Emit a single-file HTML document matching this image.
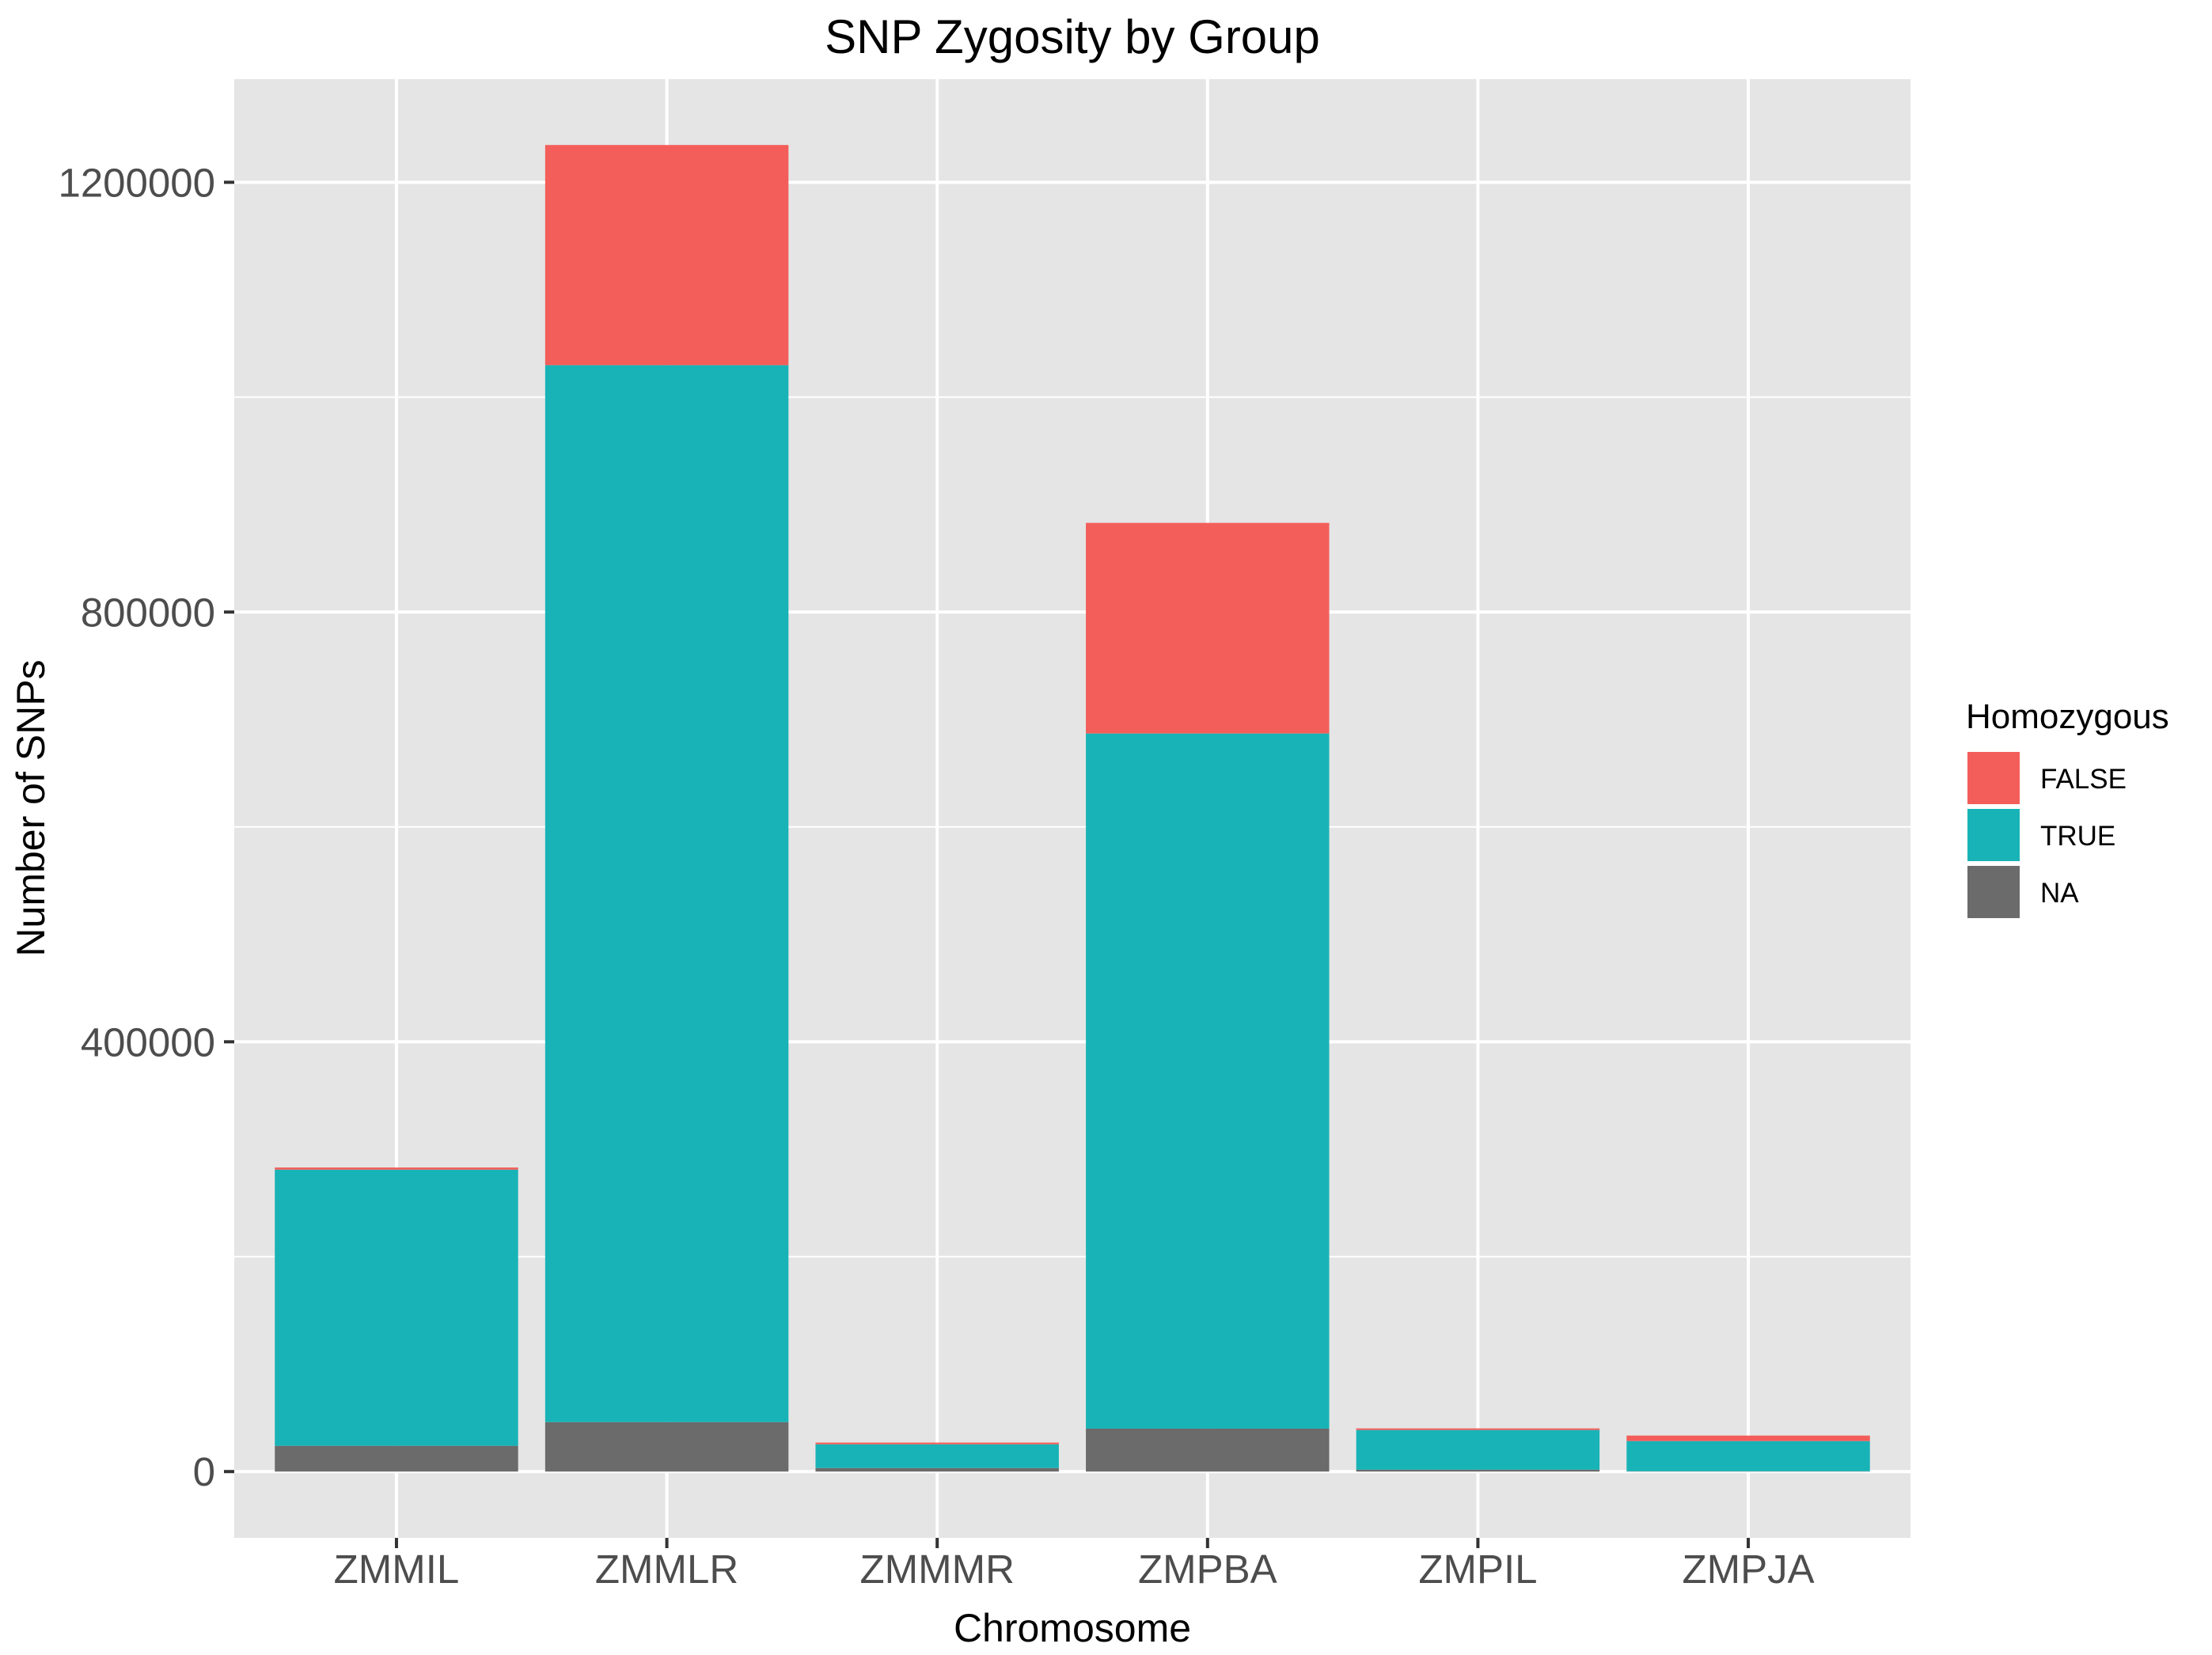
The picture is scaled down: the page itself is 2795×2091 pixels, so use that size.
<!DOCTYPE html>
<html><head><meta charset="utf-8"><style>
html,body{margin:0;padding:0;background:#fff;}
svg{display:block;font-family:"Liberation Sans",Arial,sans-serif;}
</style></head><body>
<svg id="chart" width="2795" height="2091" viewBox="0 0 2795 2091" xmlns="http://www.w3.org/2000/svg">
<rect x="0" y="0" width="2795" height="2091" fill="#fff"/>
<text x="1355" y="67" font-size="60" text-anchor="middle" fill="#000">SNP Zygosity by Group</text>
<rect x="296" y="100" width="2118" height="1843" fill="#e5e5e5"/>
<g id="grid"></g>
<g id="bars"></g>
<g id="axes"></g>
<text x="1355" y="2074" font-size="50" text-anchor="middle" fill="#000">Chromosome</text>
<text transform="translate(56,1021) rotate(-90)" font-size="50" text-anchor="middle" fill="#000">Number of SNPs</text>
<g>
<text x="2484" y="920" font-size="44" fill="#000">Homozygous</text>
<rect x="2486" y="950" width="66" height="66" fill="#F35E5A"/>
<text x="2578" y="996" font-size="35" fill="#000">FALSE</text>
<rect x="2486" y="1022" width="66" height="66" fill="#18B3B7"/>
<text x="2578" y="1068" font-size="35" fill="#000">TRUE</text>
<rect x="2486" y="1094" width="66" height="66" fill="#6B6B6B"/>
<text x="2578" y="1140" font-size="35" fill="#000">NA</text>
</g>
</svg>
<script>
const categories = ["ZMMIL","ZMMLR","ZMMMR","ZMPBA","ZMPIL","ZMPJA"];
const naValues = [24000, 46000, 3300, 40000, 1800, 300];
const trueValues = [257000, 983800, 22100, 647000, 36900, 28100];
const falseValues = [2000, 204900, 1600, 196000, 1500, 5100];
const yTicks = [0, 400000, 800000, 1200000];
const yMinorTicks = [200000, 600000, 1000000];
const yTickLabels = ["0","400000","800000","1200000"];

const NS = "http://www.w3.org/2000/svg";
const PL = 296, PR = 2414, PT = 100, PB = 1943;
const yMin = -61700, yMax = 1296000;
function yScale(v){ return PB - (v - yMin) / (yMax - yMin) * (PB - PT); }
const step = (PR - PL) / (categories.length - 1 + 1.2);
function xScale(i){ return PL + step * 0.6 + i * step; }
const barW = step * 0.9;
function mk(tag, attrs, parent){ const e = document.createElementNS(NS, tag); for (const k in attrs) e.setAttribute(k, attrs[k]); parent.appendChild(e); return e; }

const grid = document.getElementById('grid');
yMinorTicks.forEach(v => {
  const l = mk('line', {x1:PL, x2:PR, y1:yScale(v), y2:yScale(v), stroke:'#fff', 'stroke-width':2}, grid);
  
  
});
yTicks.forEach(v => {
  const l = mk('line', {x1:PL, x2:PR, y1:yScale(v), y2:yScale(v), stroke:'#fff', 'stroke-width':4}, grid);
  
  
});
categories.forEach((c, i) => {
  const l = mk('line', {x1:xScale(i), x2:xScale(i), y1:PT, y2:PB, stroke:'#fff', 'stroke-width':4}, grid);
  
  
});

const bars = document.getElementById('bars');
categories.forEach((c, i) => {
  const x = xScale(i) - barW / 2;
  const segs = [[naValues[i], '#6B6B6B', 'na'], [trueValues[i], '#18B3B7', 'true'], [falseValues[i], '#F35E5A', 'false']];
  let base = 0;
  segs.forEach(s => {
    const y0 = yScale(base), y1 = yScale(base + s[0]);
    const r = mk('rect', {x:x, y:y1, width:barW, height:Math.max(0, y0 - y1), fill:s[1]}, bars);
    
    
    base += s[0];
  });
});

const axes = document.getElementById('axes');
yTicks.forEach((v, i) => {
  const t = mk('line', {x1:PL - 13, x2:PL, y1:yScale(v), y2:yScale(v), stroke:'#333', 'stroke-width':4}, axes);
  
  
  const tx = mk('text', {x:PL - 24, y:yScale(v) + 18, 'font-size':51, 'text-anchor':'end', fill:'#4d4d4d'}, axes);
  tx.textContent = yTickLabels[i];
  
  
});
categories.forEach((c, i) => {
  const t = mk('line', {x1:xScale(i), x2:xScale(i), y1:PB, y2:PB + 13, stroke:'#333', 'stroke-width':4}, axes);
  
  
  const tx = mk('text', {x:xScale(i), y:2000, 'font-size':51, 'text-anchor':'middle', fill:'#4d4d4d'}, axes);
  tx.textContent = c;
  
  
});
</script>
</body></html>
